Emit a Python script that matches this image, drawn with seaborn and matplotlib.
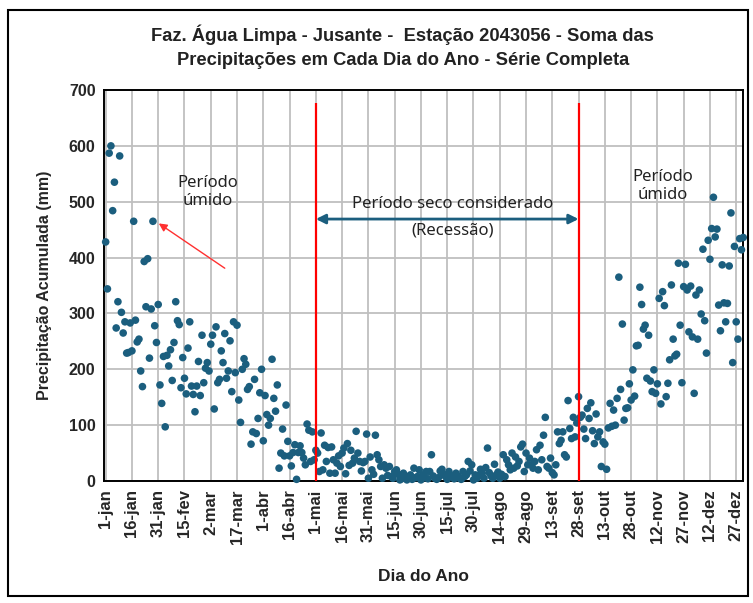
import pandas as pd
import matplotlib.pyplot as plt
import seaborn as sns
from matplotlib.ticker import FixedLocator
from matplotlib.patches import Rectangle

# Soma das precipitações por dia do ano (mm)
jan = [428, 344, 587, 600, 484, 535, 274, 321, 582, 302, 265, 285, 229, 230, 283, 233,
       465, 288, 249, 254, 197, 169, 393, 312, 398, 220, 308, 465, 278, 248, 316]
fev = [172, 139, 223, 97, 225, 206, 235, 180, 248, 321, 287, 280, 167, 221, 184, 156,
       238, 285, 170, 155, 124, 170, 214, 153, 261, 176, 202, 212]
mar = [197, 245, 261, 129, 276, 176, 182, 233, 212, 264, 184, 197, 251, 160, 285, 194,
       279, 145, 105, 200, 219, 209, 164, 169, 66, 88, 182, 85, 112, 158, 200]
abr = [72, 153, 119, 100, 112, 218, 148, 125, 172, 23, 50, 93, 45, 136, 71, 45,
       27, 51, 65, 3, 51, 63, 51, 41, 29, 102, 91, 35, 88, 38]
mai = [55, 50, 17, 86, 20, 64, 35, 60, 14, 61, 38, 14, 32, 45, 26, 50,
       59, 13, 67, 28, 55, 32, 41, 89, 50, 35, 18, 33, 35, 84, 5]
jun = [43, 20, 12, 82, 47, 38, 26, 5, 29, 23, 10, 26, 8, 5, 17, 20,
       12, 2, 4, 14, 9, 2, 5, 11, 3, 23, 6, 8, 20, 2]
jul = [11, 6, 17, 4, 17, 47, 9, 5, 3, 6, 18, 21, 12, 8, 3, 17,
       10, 7, 4, 14, 9, 5, 3, 17, 8, 11, 35, 18, 29, 2, 11]
ago = [5, 10, 21, 14, 5, 24, 59, 15, 9, 5, 30, 11, 16, 5, 12, 47,
       8, 38, 29, 20, 50, 23, 43, 27, 35, 61, 66, 17, 50, 29, 41]
set_ = [29, 23, 35, 56, 20, 64, 38, 82, 114, 26, 23, 41, 15, 11, 29, 88,
        67, 73, 88, 47, 43, 144, 94, 76, 114, 79, 104, 151, 114, 118]
out = [93, 76, 130, 112, 140, 90, 67, 120, 79, 88, 26, 70, 66, 21, 95, 139,
       98, 127, 100, 148, 365, 164, 281, 109, 130, 131, 174, 145, 199, 152, 242]
nov = [243, 347, 316, 272, 279, 184, 261, 179, 160, 199, 157, 174, 327, 138, 339, 314,
       151, 175, 217, 351, 254, 224, 227, 390, 279, 176, 348, 388, 342, 267]
dez = [349, 258, 157, 333, 254, 342, 299, 415, 287, 229, 431, 397, 452, 508, 437, 451,
       315, 269, 387, 319, 285, 318, 385, 480, 212, 420, 285, 254, 434, 414, 436]

precip = jan + fev + mar + abr + mai + jun + jul + ago + set_ + out + nov + dez
dias = list(range(1, len(precip) + 1))

tick_dias = [1, 16, 31, 46, 61, 76, 91, 106, 121, 136, 151, 166, 181, 196, 211, 226,
             241, 256, 271, 286, 301, 316, 331, 346, 361]
tick_rotulos = ['1-jan', '16-jan', '31-jan', '15-fev', '2-mar', '17-mar', '1-abr', '16-abr',
                '1-mai', '16-mai', '31-mai', '15-jun', '30-jun', '15-jul', '30-jul', '14-ago',
                '29-ago', '13-set', '28-set', '13-out', '28-out', '12-nov', '27-nov',
                '12-dez', '27-dez']

inicio_seco = 121
fim_seco = 271

df = pd.DataFrame({'dia': dias, 'precip': precip})

sns.set_style("white")
plt.rcParams['font.family'] = ['Liberation Sans', 'DejaVu Sans']
estreita = ['Liberation Sans Narrow', 'Liberation Sans', 'DejaVu Sans']
normal = ['Noto Sans', 'DejaVu Sans']

fig = plt.figure(figsize=(7.53, 6.03), dpi=100)
ax = fig.add_axes([0.138, 0.2023, 0.849, 0.6484])

cor = '#1B5E7E'

sns.scatterplot(data=df, x='dia', y='precip', ax=ax, color=cor, s=30,
                edgecolor='none', clip_on=False, zorder=3)

ax.set_xlim(0, 365)
ax.set_ylim(0, 700)
ax.set_yticks(range(0, 701, 100))
ax.set_xticks(tick_dias)
ax.set_xticklabels(tick_rotulos, rotation=90, fontsize=12, fontweight='bold')
ax.xaxis.set_minor_locator(FixedLocator(range(1, 366, 2)))
for t in ax.get_yticklabels():
    t.set_fontweight('bold')
    t.set_fontsize(11.5)

ax.grid(True, which='major', color='#BFBFBF', linewidth=1.3)
ax.set_axisbelow(True)
ax.tick_params(axis='x', which='major', direction='inout', length=8, width=1.3, pad=2)
ax.tick_params(axis='x', which='minor', direction='in', length=3.5, width=1)
ax.tick_params(axis='y', which='major', length=0, pad=6)
for s in ax.spines.values():
    s.set_color('black')
    s.set_linewidth(1.4)

ax.set_xlabel('Dia do Ano', fontsize=12.5, fontweight='bold', labelpad=18,
              family=estreita, color='#222222')
ax.set_ylabel('Precipitação Acumulada (mm)', fontsize=11.5, fontweight='bold', labelpad=12)

# Limites do período seco
ax.vlines([inicio_seco, fim_seco], 0, 677, color='red', linewidth=1.6, zorder=4)
ax.annotate('', xy=(inicio_seco, 469), xytext=(fim_seco, 469),
            arrowprops=dict(arrowstyle='<|-|>', color=cor, lw=2, mutation_scale=14,
                            shrinkA=0, shrinkB=0), zorder=5)
ax.text(199, 496, 'Período seco considerado', ha='center', va='center', fontsize=12,
        family=normal, color='#222222')
ax.text(199, 448, '(Recessão)', ha='center', va='center', fontsize=12,
        family=normal, color='#222222')

ax.text(59, 517, 'Período\númido', ha='center', va='center', fontsize=12,
        family=normal, color='#222222', linespacing=1.2)
ax.text(319, 528, 'Período\númido', ha='center', va='center', fontsize=12,
        family=normal, color='#222222', linespacing=1.2)
ax.annotate('', xy=(30, 464), xytext=(69, 381),
            arrowprops=dict(arrowstyle='-|>', color='#FF3030', lw=1, mutation_scale=12,
                            shrinkA=0, shrinkB=2))

fig.text(0.535, 0.942, 'Faz. Água Limpa - Jusante -  Estação 2043056 - Soma das',
         ha='center', va='center', fontsize=13.2, fontweight='bold',
         family=estreita, color='#222222')
fig.text(0.535, 0.899, 'Precipitações em Cada Dia do Ano - Série Completa',
         ha='center', va='center', fontsize=13.2, fontweight='bold',
         family=estreita, color='#222222')

fig.patches.append(Rectangle((0.011, 0.012), 0.982, 0.972, transform=fig.transFigure,
                             fill=False, edgecolor='black', linewidth=1.5))

plt.savefig('out.png', dpi=100)
plt.close()
